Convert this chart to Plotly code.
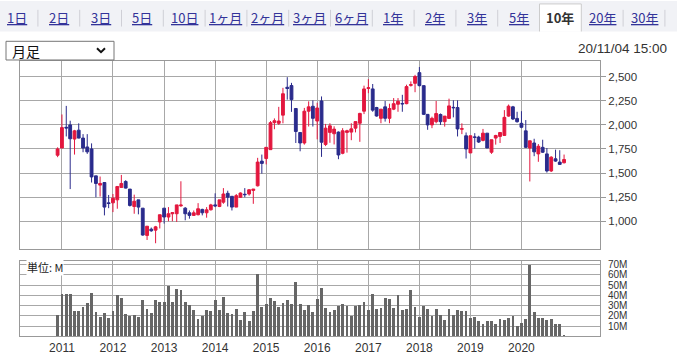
import plotly.graph_objects as go

# ---------------- data ----------------
months = [
    "2010-12",
    "2011-01", "2011-02", "2011-03", "2011-04", "2011-05", "2011-06", "2011-07", "2011-08", "2011-09", "2011-10", "2011-11", "2011-12",
    "2012-01", "2012-02", "2012-03", "2012-04", "2012-05", "2012-06", "2012-07", "2012-08", "2012-09", "2012-10", "2012-11", "2012-12",
    "2013-01", "2013-02", "2013-03", "2013-04", "2013-05", "2013-06", "2013-07", "2013-08", "2013-09", "2013-10", "2013-11", "2013-12",
    "2014-01", "2014-02", "2014-03", "2014-04", "2014-05", "2014-06", "2014-07", "2014-08", "2014-09", "2014-10", "2014-11", "2014-12",
    "2015-01", "2015-02", "2015-03", "2015-04", "2015-05", "2015-06", "2015-07", "2015-08", "2015-09", "2015-10", "2015-11", "2015-12",
    "2016-01", "2016-02", "2016-03", "2016-04", "2016-05", "2016-06", "2016-07", "2016-08", "2016-09", "2016-10", "2016-11", "2016-12",
    "2017-01", "2017-02", "2017-03", "2017-04", "2017-05", "2017-06", "2017-07", "2017-08", "2017-09", "2017-10", "2017-11", "2017-12",
    "2018-01", "2018-02", "2018-03", "2018-04", "2018-05", "2018-06", "2018-07", "2018-08", "2018-09", "2018-10", "2018-11", "2018-12",
    "2019-01", "2019-02", "2019-03", "2019-04", "2019-05", "2019-06", "2019-07", "2019-08", "2019-09", "2019-10", "2019-11", "2019-12",
    "2020-01", "2020-02", "2020-03", "2020-04", "2020-05", "2020-06", "2020-07", "2020-08", "2020-09", "2020-10", "2020-11",
]

open_ = [
    1685,
    1760, 1975, 2000, 1853, 1945, 1863, 1771, 1750, 1471, 1375, 1402, 1191,
    1191, 1222, 1351, 1413, 1334, 1153, 1222, 1136, 853, 918, 908, 993,
    1136, 1044, 1078, 1078, 1160, 1136, 1088, 1061, 1068, 1123, 1088, 1119,
    1170, 1153, 1198, 1290, 1259, 1147, 1249, 1280, 1283, 1320, 1368, 1624,
    1651, 1743, 2023, 2016, 2101, 2390, 2408, 2170, 1921, 1812, 2142, 2193,
    2040, 2248, 1797, 1922, 1908, 1925, 1705, 1922, 1925, 1966, 2017, 2142,
    2378, 2373, 2180, 2068, 2187, 2068, 2163, 2214, 2222, 2220, 2410, 2431,
    2542, 2407, 2109, 2000, 2033, 2108, 2033, 2067, 2182, 2180, 1955, 1887,
    1709, 1875, 1873, 1839, 1914, 1716, 1863, 1880, 1890, 2091, 2187, 2067,
    2016, 1938, 1760, 1812, 1699, 1767, 1699, 1522, 1648, 1614, 1607,
]
high = [
    1767,
    2108, 2197, 2043, 1948, 2016, 1904, 1904, 1808, 1471, 1464, 1402, 1273,
    1283, 1361, 1481, 1426, 1334, 1276, 1222, 1136, 949, 935, 952, 1068,
    1136, 1147, 1089, 1170, 1415, 1147, 1112, 1112, 1188, 1130, 1147, 1181,
    1290, 1222, 1344, 1317, 1259, 1283, 1300, 1344, 1334, 1334, 1658, 1692,
    1767, 2040, 2067, 2187, 2384, 2495, 2436, 2170, 1921, 2176, 2244, 2254,
    2230, 2295, 2010, 2017, 1985, 1932, 1966, 1949, 2017, 2034, 2125, 2407,
    2475, 2424, 2187, 2163, 2248, 2220, 2278, 2278, 2312, 2417, 2451, 2519,
    2600, 2410, 2112, 2085, 2248, 2118, 2091, 2272, 2255, 2255, 2016, 1921,
    1887, 1914, 1887, 1958, 1914, 1846, 1897, 1921, 2153, 2211, 2197, 2136,
    2142, 2050, 1835, 1856, 1801, 1846, 1760, 1675, 1743, 1737, 1692,
]
low = [
    1665,
    1760, 1880, 1334, 1692, 1860, 1716, 1699, 1402, 1249, 1256, 1061, 1136,
    1095, 1130, 1351, 1340, 1153, 1078, 1072, 850, 806, 891, 772, 925,
    976, 1000, 1000, 993, 1150, 1010, 1027, 1055, 1061, 1061, 1037, 1112,
    1147, 1147, 1181, 1153, 1112, 1147, 1242, 1249, 1266, 1181, 1361, 1494,
    1590, 1743, 1955, 1999, 2016, 2262, 2135, 1812, 1726, 1795, 1983, 1983,
    1850, 1668, 1780, 1814, 1797, 1644, 1695, 1712, 1841, 1922, 1824, 2112,
    2329, 2136, 2085, 2017, 2034, 2017, 2153, 2136, 2136, 2214, 2397, 2339,
    2400, 2102, 1949, 1966, 2016, 1999, 1982, 2067, 2078, 1880, 1904, 1651,
    1709, 1754, 1812, 1829, 1760, 1699, 1795, 1812, 1890, 2084, 2050, 2023,
    1965, 1760, 1413, 1675, 1617, 1709, 1505, 1511, 1617, 1585, 1600,
]
close = [
    1750,
    1972, 1968, 1856, 1938, 1863, 1760, 1720, 1460, 1392, 1392, 1147, 1184,
    1239, 1361, 1392, 1344, 1164, 1208, 1147, 857, 949, 901, 942, 1068,
    1044, 1078, 1089, 1170, 1168, 1078, 1061, 1088, 1130, 1088, 1119, 1170,
    1160, 1222, 1283, 1249, 1147, 1266, 1293, 1276, 1327, 1334, 1614, 1600,
    1767, 2023, 2043, 2040, 2323, 2378, 2262, 1931, 1812, 2142, 2187, 2068,
    2175, 1820, 1966, 1990, 1956, 1688, 1939, 1939, 1959, 2034, 2119, 2373,
    2385, 2153, 2092, 2163, 2068, 2170, 2220, 2244, 2218, 2397, 2417, 2502,
    2407, 2109, 2000, 2068, 2118, 2033, 2091, 2197, 2178, 1958, 1960, 1750,
    1887, 1871, 1822, 1914, 1760, 1846, 1890, 1921, 2078, 2194, 2061, 2033,
    1975, 1767, 1835, 1720, 1778, 1716, 1522, 1665, 1624, 1590, 1641,
]
volume_m = [
    21.1,
    41.5, 42.2, 42.2, 24.9, 24.9, 29.4, 32.6, 43.1, 24.0, 19.2, 23.0, 18.5,
    24.9, 40.3, 37.4, 22.4, 20.1, 21.4, 18.8, 35.5, 27.2, 23.3, 35.5, 33.5,
    33.5, 49.2, 33.5, 47.0, 46.0, 33.5, 30.7, 25.9, 17.6, 20.1, 26.5, 24.9,
    35.5, 25.9, 39.0, 23.3, 22.0, 26.8, 16.6, 24.0, 15.7, 24.9, 61.3, 29.1,
    32.3, 38.3, 34.5, 29.1, 32.6, 35.5, 31.6, 53.7, 31.6, 25.9, 30.7, 24.0,
    36.4, 47.9, 27.8, 24.0, 25.9, 29.7, 31.6, 29.7, 20.1, 29.7, 30.7, 33.5,
    25.9, 42.2, 26.8, 27.8, 38.3, 36.4, 27.8, 40.3, 25.9, 26.8, 46.0, 28.8,
    19.2, 29.7, 26.8, 20.1, 26.8, 21.1, 16.3, 26.8, 21.1, 25.9, 24.9, 24.9,
    18.5, 19.2, 15.3, 12.5, 15.3, 15.3, 12.5, 16.9, 16.3, 18.5, 20.1, 10.5,
    13.4, 17.3, 70.3, 24.0, 18.5, 18.5, 16.3, 17.3, 12.5, 12.5, 1.0,
]

year_ticks = ["2011-01-01", "2012-01-01", "2013-01-01", "2014-01-01", "2015-01-01",
              "2016-01-01", "2017-01-01", "2018-01-01", "2019-01-01", "2020-01-01"]
year_labels = ["2011", "2012", "2013", "2014", "2015", "2016", "2017", "2018", "2019", "2020"]
price_ticks = [1000, 1250, 1500, 1750, 2000, 2250, 2500]
price_labels = ["1,000", "1,250", "1,500", "1,750", "2,000", "2,250", "2,500"]
vol_ticks = [10, 20, 30, 40, 50, 60, 70]
vol_labels = ["10M", "20M", "30M", "40M", "50M", "60M", "70M"]

tab_labels = ["1日", "2日", "3日", "5日", "10日", "1ヶ月", "2ヶ月", "3ヶ月", "6ヶ月",
              "1年", "2年", "3年", "5年", "10年", "20年", "30年"]
selected_tab = "10年"
date_text = "20/11/04 15:00"
period_text = "月足"
unit_text = "単位: M"

# ---------------- styling helpers ----------------
W, H = 677, 355
RED = "#e3173e"
NAVY = "#2a2b8c"
GRID = "#a8a8a8"
BORDER = "#999999"
TXT = "#333333"


def px(x):
    return x / W


def py(y):
    return 1 - y / H


fig = go.Figure()

fig.add_trace(go.Candlestick(
    x=months, open=open_, high=high, low=low, close=close,
    increasing=dict(line=dict(color=RED, width=1), fillcolor=RED),
    decreasing=dict(line=dict(color=NAVY, width=1), fillcolor=NAVY),
    xaxis="x", yaxis="y", showlegend=False, hoverinfo="skip",
))

fig.add_trace(go.Bar(
    x=months, y=volume_m, marker=dict(color="#666666", line=dict(width=0)),
    width=20 * 24 * 3600 * 1000, xaxis="x2", yaxis="y2", showlegend=False,
    hoverinfo="skip",
))

xrange = ["2010-03-07", "2021-07-16"]
xdom = [px(20), px(600)]

common_x = dict(
    type="date", range=xrange, domain=xdom, tickmode="array", tickvals=year_ticks,
    showgrid=True, gridcolor=GRID, gridwidth=1, showline=True, mirror=True,
    linecolor=BORDER, linewidth=1, zeroline=False, ticks="", fixedrange=True,
)

shapes = []
annotations = []

# tab bar background
shapes.append(dict(type="rect", xref="paper", yref="paper", x0=0, x1=1, y0=py(31), y1=1,
                   fillcolor="#f1f2f6", line=dict(width=0), layer="below"))
step = 41.8
for i, lab in enumerate(tab_labels):
    cx = 17 + step * i
    if lab == selected_tab:
        shapes.append(dict(type="path", xref="paper", yref="paper",
                           path=f"M {px(cx-20.9)},{py(31)} L {px(cx-20.9)},{py(3)} L {px(cx+20.9)},{py(3)} L {px(cx+20.9)},{py(31)} Z",
                           fillcolor="white", line=dict(width=0), layer="below"))
        for (a, b, c, d) in [(cx - 20.9, 3, cx - 20.9, 31), (cx - 20.9, 3, cx + 20.9, 3), (cx + 20.9, 3, cx + 20.9, 31)]:
            shapes.append(dict(type="line", xref="paper", yref="paper", x0=px(a), y0=py(b), x1=px(c), y1=py(d),
                               line=dict(color="#cccccc", width=1)))
        annotations.append(dict(x=px(cx), y=py(17), xref="paper", yref="paper", text=f"<b>{lab}</b>",
                                showarrow=False, xanchor="center", yanchor="middle",
                                font=dict(family="Noto Sans CJK JP", size=13, color=TXT)))
    else:
        annotations.append(dict(x=px(cx), y=py(17), xref="paper", yref="paper", text=f"<u>{lab}</u>",
                                showarrow=False, xanchor="center", yanchor="middle",
                                font=dict(family="Noto Sans CJK JP", size=13, color="#333399")))
    if i < len(tab_labels) - 1 and lab != selected_tab and tab_labels[i + 1] != selected_tab:
        sx = cx + step / 2
        shapes.append(dict(type="line", xref="paper", yref="paper", x0=px(sx), x1=px(sx), y0=py(9), y1=py(26),
                           line=dict(color="#cfcfd6", width=1)))
# last separator
shapes.append(dict(type="line", xref="paper", yref="paper", x0=px(17 + step * 15.5), x1=px(17 + step * 15.5),
                   y0=py(9), y1=py(26), line=dict(color="#cfcfd6", width=1)))

# dropdown
shapes.append(dict(type="rect", xref="paper", yref="paper", x0=px(6), x1=px(114), y0=py(60), y1=py(41),
                   fillcolor="white", line=dict(color="#767676", width=1)))
shapes.append(dict(type="path", xref="paper", yref="paper",
                   path=f"M {px(97)},{py(48)} L {px(101)},{py(52)} L {px(105)},{py(48)}",
                   line=dict(color="#111111", width=2)))
annotations.append(dict(x=px(10), y=py(50.5), xref="paper", yref="paper", text=period_text, showarrow=False,
                        xanchor="left", yanchor="middle",
                        font=dict(family="Noto Sans CJK JP", size=14, color="#111111")))
annotations.append(dict(x=px(669), y=py(48), xref="paper", yref="paper", text=date_text, showarrow=False,
                        xanchor="right", yanchor="middle",
                        font=dict(family="Liberation Sans", size=13.5, color=TXT)))
annotations.append(dict(x=px(26), y=py(271), xref="paper", yref="paper", text=unit_text, showarrow=False,
                        xanchor="left", yanchor="middle", bgcolor="white", borderpad=0,
                        font=dict(family="Noto Sans CJK JP", size=11, color="#222222")))

fig.update_layout(
    width=W, height=H, margin=dict(l=0, r=0, t=0, b=0),
    paper_bgcolor="white", plot_bgcolor="white",
    font=dict(family="Liberation Sans, Arial", color=TXT),
    boxgap=0.2, boxgroupgap=0.1,
    bargap=0,
    xaxis=dict(common_x, anchor="y", showticklabels=False, rangeslider=dict(visible=False)),
    yaxis=dict(domain=[py(252), py(61)], range=[715, 2663], side="right", anchor="x",
               tickmode="array", tickvals=price_ticks, ticktext=price_labels,
               ticks="outside", ticklen=5, tickcolor=BORDER, tickfont=dict(size=11.5, color=TXT),
               showgrid=True, gridcolor=GRID, gridwidth=1, showline=True, mirror=True,
               linecolor=BORDER, linewidth=1, zeroline=False, fixedrange=True),
    xaxis2=dict(common_x, anchor="y2", matches="x", showticklabels=True, ticktext=year_labels,
                tickfont=dict(size=12, color=TXT)),
    yaxis2=dict(domain=[py(341), py(264)], range=[0, 74], side="right", anchor="x2",
                tickmode="array", tickvals=vol_ticks, ticktext=vol_labels,
                ticks="outside", ticklen=5, tickcolor="rgba(0,0,0,0)", tickfont=dict(size=10, color=TXT),
                showgrid=True, gridcolor=GRID, gridwidth=1, showline=True, mirror=True,
                linecolor=BORDER, linewidth=1, zeroline=False, fixedrange=True),
    shapes=shapes, annotations=annotations,
    showlegend=False,
)

fig.write_html("out.html")
